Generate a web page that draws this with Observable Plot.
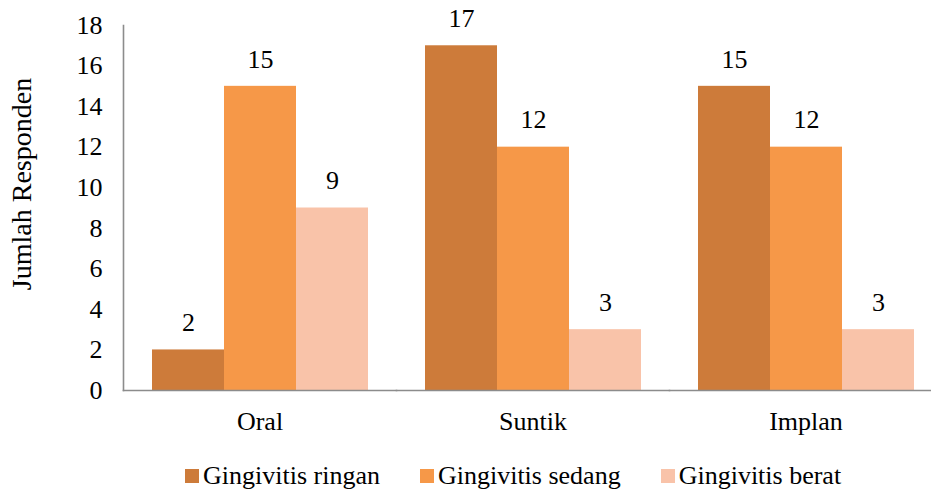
<!DOCTYPE html>
<html>
<head>
<meta charset="utf-8">
<script src="https://cdn.jsdelivr.net/npm/d3@7"></script>
<script src="https://cdn.jsdelivr.net/npm/@observablehq/plot@0.6"></script>
<style>
  body { margin: 0; background: #fff; font-family: "Liberation Serif", "Times New Roman", Tinos, "DejaVu Serif", serif; }
  #chart svg { display: block; }
  #legend { display: flex; align-items: center; padding-left: 185px; margin-top: 21px; height: 30px; font-size: 26px; color: #000; }
  .item { display: flex; align-items: center; margin-right: 40px; }
  .sw { width: 14px; height: 14px; margin-right: 4px; }
</style>
</head>
<body>
<div id="chart"></div>
<div id="legend"></div>
<script>
const categories = ["Oral", "Suntik", "Implan"];
const series = ["Gingivitis ringan", "Gingivitis sedang", "Gingivitis berat"];
const ringan = [2, 17, 15];
const sedang = [15, 12, 12];
const berat = [9, 3, 3];
const colors = ["#CD7B3A", "#F69848", "#F9C3A9"];
const yTicks = [0, 2, 4, 6, 8, 10, 12, 14, 16, 18];
const yTitle = "Jumlah Responden";

const data = [];
categories.forEach((c, i) => {
  data.push({cat: c, series: series[0], value: ringan[i]});
  data.push({cat: c, series: series[1], value: sedang[i]});
  data.push({cat: c, series: series[2], value: berat[i]});
});

const serif = "'Liberation Serif', 'Times New Roman', Tinos, 'DejaVu Serif', serif";
const plot = Plot.plot({
  width: 931,
  height: 440,
  marginLeft: 123,
  marginRight: 0,
  marginTop: 25,
  marginBottom: 50,
  style: { fontFamily: serif, fontSize: "26px", color: "#000", background: "#fff" },
  fx: { domain: categories, range: [123, 942], padding: 0, label: null },
  x: { domain: series, paddingInner: 0, paddingOuter: 0.377, axis: null },
  y: { domain: [0, 18], ticks: yTicks, label: null },
  color: { domain: series, range: colors },
  marks: [
    Plot.axisFx({ anchor: "bottom", tickSize: 0, tickPadding: 21, fontSize: 26, label: null }),
    Plot.axisY({ ticks: yTicks, tickSize: 0, tickPadding: 21, fontSize: 26, label: null }),
    Plot.barY(data, { fx: "cat", x: "series", y: "value", fill: "series" }),
    Plot.text(data, { fx: "cat", x: "series", y: "value", text: d => String(d.value), dy: -27, fontSize: 26, fill: "#000" }),
    Plot.frame({ anchor: "left", stroke: "#8C8C8C", strokeWidth: 1.6, facetAnchor: "left" }),
    Plot.frame({ anchor: "bottom", stroke: "#8C8C8C", strokeWidth: 1.6, facetAnchor: "bottom" }),
    Plot.text([yTitle], { frameAnchor: "left", textAnchor: "middle", dx: -101, dy: -24, rotate: -90, fontSize: 28, fill: "#000", facetAnchor: "left" })
  ]
});
document.getElementById("chart").appendChild(plot);

const legend = document.getElementById("legend");
series.forEach((s, i) => {
  const item = document.createElement("div");
  item.className = "item";
  const sw = document.createElement("div");
  sw.className = "sw";
  sw.style.background = colors[i];
  const t = document.createElement("span");
  t.textContent = s;
  item.appendChild(sw);
  item.appendChild(t);
  legend.appendChild(item);
});
</script>
</body>
</html>
